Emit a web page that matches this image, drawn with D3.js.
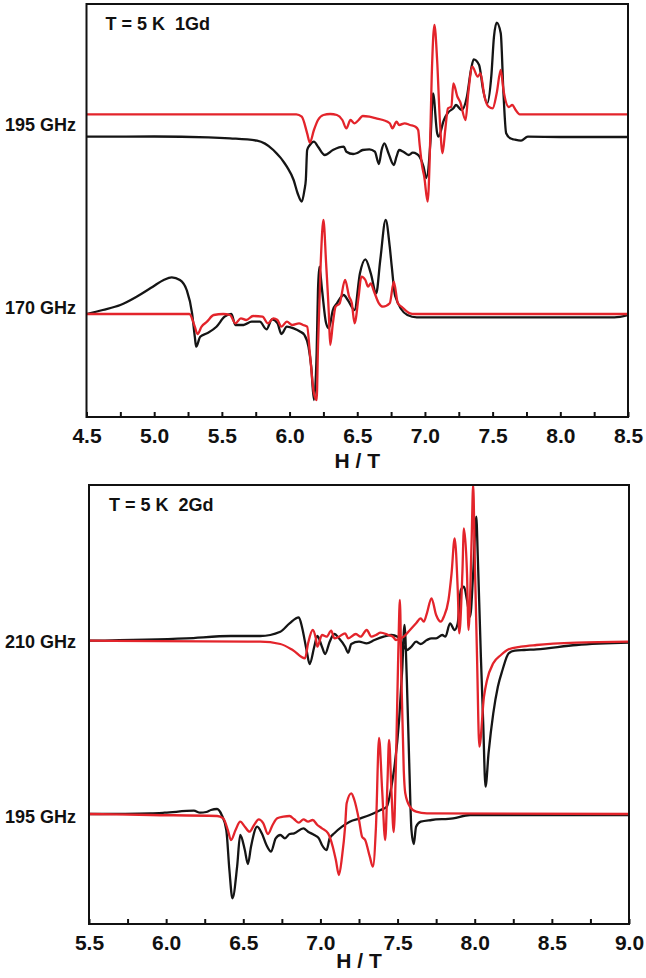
<!DOCTYPE html>
<html><head><meta charset="utf-8">
<script src="https://cdn.jsdelivr.net/npm/d3@7"></script>
<style>
body{margin:0;background:#fff}
svg{display:block}
text{font-family:"Liberation Sans",Arial,sans-serif;font-weight:bold;fill:#111}
</style>
</head><body>
<svg id="chart" width="646" height="978"></svg>
<script>
// ---------------- DATA ----------------
// x: magnetic field H (T); y: EPR signal (arb. units) relative to the trace baseline
const topTicks = [4.5,4.75,5.0,5.25,5.5,5.75,6.0,6.25,6.5,6.75,7.0,7.25,7.5,7.75,8.0,8.25,8.5];
const topTickLabels = [4.5,5.0,5.5,6.0,6.5,7.0,7.5,8.0,8.5];
const bottomTicks = [5.5,5.75,6.0,6.25,6.5,6.75,7.0,7.25,7.5,7.75,8.0,8.25,8.5,8.75,9.0];
const bottomTickLabels = [5.5,6.0,6.5,7.0,7.5,8.0,8.5,9.0];

const topFreqLabels = ["195 GHz","170 GHz"];
const topFreqLevels = [18.9, 0.6];
const bottomFreqLabels = ["210 GHz","195 GHz"];
const bottomFreqLevels = [17.23, -0.27];

const topOffsets = {b195:17.65, r195:19.97, b170:0, r170:0};
const bottomOffsets = {b210:17.33, r210:17.33, b195:0, r195:0};

const top195Black = [[4.50,0.08],[5.00,0.10],[5.40,0.02],[5.56,-0.08],[5.76,-0.32],[5.88,-1.25],[5.98,-2.92],[6.03,-4.25],[6.06,-5.6],[6.09,-6.42],[6.11,-5.25],[6.12,-4.25],[6.13,-1.25],[6.15,-0.75],[6.18,-0.42],[6.21,-0.92],[6.26,-1.75],[6.32,-1.25],[6.40,-0.92],[6.42,-1.42],[6.47,-1.65],[6.50,-1.55],[6.54,-1.25],[6.59,-1.18],[6.63,-1.42],[6.66,-2.65],[6.68,-1.25],[6.70,-0.58],[6.73,-1.55],[6.77,-2.75],[6.79,-1.92],[6.81,-1.25],[6.84,-1.42],[6.88,-1.75],[6.91,-1.52],[6.94,-1.65],[6.96,-1.92],[6.99,-2.92],[7.01,-4.05],[7.04,-0.55],[7.06,4.42],[7.09,0.45],[7.10,0.08],[7.14,1.75],[7.17,2.48],[7.21,2.92],[7.23,3.25],[7.27,2.75],[7.31,4.08],[7.34,6.75],[7.36,7.82],[7.40,7.25],[7.43,4.75],[7.46,3.42],[7.49,6.08],[7.51,10.08],[7.53,11.48],[7.56,10.42],[7.58,4.45],[7.60,0.42],[7.63,-0.08],[7.66,-0.2],[7.71,-0.32],[7.76,0.08],[8.00,0.05],[8.50,0.05]];

const top195Red = [[4.50,0],[6.05,0],[6.09,-0.24],[6.13,-1.9],[6.15,-2.84],[6.18,-1.57],[6.21,-0.57],[6.25,-0.07],[6.30,0.03],[6.35,-0.07],[6.39,-0.57],[6.42,-1.4],[6.45,-0.57],[6.48,-0.9],[6.51,-0.57],[6.54,-0.17],[6.59,-0.24],[6.64,-0.4],[6.69,-0.57],[6.74,-0.9],[6.76,-1.4],[6.79,-0.74],[6.81,-1.07],[6.85,-0.9],[6.89,-1.07],[6.93,-1.24],[6.95,-1.57],[6.96,-2.9],[6.98,-5.24],[6.995,-6.24],[7.02,-8.74],[7.035,-4.57],[7.05,3.76],[7.07,8.93],[7.09,5.43],[7.11,-0.57],[7.13,-3.9],[7.15,-1.57],[7.17,0.6],[7.195,0.76],[7.21,3.1],[7.24,1.76],[7.26,1.26],[7.30,-0.57],[7.32,2.1],[7.35,4.76],[7.39,3.76],[7.41,4.1],[7.44,1.76],[7.47,0.76],[7.50,0.6],[7.53,2.1],[7.56,4.43],[7.58,2.43],[7.62,0.73],[7.645,0.93],[7.67,0.43],[7.70,0],[8.50,0]];

const top170Black = [[4.50,0],[4.62,0.4],[4.75,0.9],[4.87,1.73],[4.99,2.73],[5.07,3.4],[5.13,3.67],[5.19,3.4],[5.24,2.4],[5.28,0.07],[5.30,-2.27],[5.31,-3.27],[5.34,-2.27],[5.39,-1.93],[5.46,-1.27],[5.52,-0.27],[5.57,0],[5.60,-1.1],[5.66,-1.1],[5.72,-0.77],[5.78,-0.77],[5.83,-1.53],[5.87,-0.53],[5.91,-0.9],[5.94,-2.0],[5.98,-1.27],[6.03,-1.43],[6.08,-1.77],[6.11,-2.1],[6.14,-3.27],[6.16,-5.27],[6.18,-8.6],[6.20,-3.93],[6.21,2.4],[6.22,4.73],[6.24,2.4],[6.27,-0.93],[6.29,-1.43],[6.32,0.4],[6.35,1.07],[6.40,1.9],[6.43,1.4],[6.48,0.4],[6.52,4.07],[6.56,5.47],[6.60,4.07],[6.64,2.07],[6.67,5.4],[6.71,9.4],[6.74,6.73],[6.755,4.73],[6.78,1.8],[6.87,-0.1],[6.94,-0.33],[8.40,-0.33],[8.50,-0.1]];

const top170Red = [[4.50,0],[5.26,0],[5.30,-1.27],[5.32,-2.0],[5.35,-1.27],[5.39,-0.77],[5.44,-0.1],[5.51,0],[5.56,-0.1],[5.60,-0.93],[5.64,-0.43],[5.68,-0.6],[5.73,-0.2],[5.80,-0.27],[5.84,-0.93],[5.88,-0.43],[5.91,-0.6],[5.94,-1.27],[5.98,-0.77],[6.02,-1.1],[6.07,-0.93],[6.10,-1.1],[6.13,-1.27],[6.15,-3.93],[6.18,-7.93],[6.20,-8.6],[6.21,-3.27],[6.23,5.07],[6.25,9.4],[6.27,5.07],[6.29,0.07],[6.30,-3.1],[6.32,-0.93],[6.34,0.73],[6.37,1.07],[6.41,3.4],[6.44,1.73],[6.46,1.07],[6.48,-0.93],[6.51,1.73],[6.53,3.73],[6.56,3.4],[6.58,2.73],[6.60,3.07],[6.62,2.4],[6.66,1.07],[6.69,0.73],[6.74,1.07],[6.77,3.23],[6.80,1.07],[6.83,0.7],[6.89,0.07],[6.92,0],[8.50,0]];

const bot210Black = [[5.50,0],[6.13,0.24],[6.42,0.47],[6.61,0.47],[6.74,0.9],[6.80,1.74],[6.86,2.34],[6.88,1.4],[6.91,-0.93],[6.93,-2.33],[6.96,-0.6],[6.98,0.47],[7.01,-0.6],[7.03,-1.33],[7.06,-0.1],[7.09,0.67],[7.12,0.24],[7.16,-0.6],[7.18,-1.2],[7.20,-0.33],[7.25,-0.1],[7.30,-0.26],[7.35,0.07],[7.41,0.4],[7.46,0.57],[7.50,0.4],[7.53,-0.26],[7.56,-0.93],[7.59,-0.6],[7.62,-0.1],[7.65,-0.33],[7.69,0.07],[7.72,0.24],[7.75,0.24],[7.79,0.57],[7.81,0.4],[7.84,1.74],[7.87,1.07],[7.89,1.74],[7.91,5.07],[7.93,5.4],[7.95,4.07],[7.97,2.4],[7.99,6.74],[8.01,12.4],[8.02,8.4],[8.04,-1.6],[8.055,-8.26],[8.07,-14.6],[8.09,-11.2],[8.12,-7.3],[8.15,-4.6],[8.18,-2.93],[8.22,-1.26],[8.26,-1.0],[8.32,-0.93],[8.40,-0.86],[8.66,-0.43],[9.00,-0.2]];

const bot210Red = [[5.50,0],[6.53,-0.1],[6.61,-0.1],[6.74,-0.33],[6.82,-0.93],[6.90,-1.76],[6.92,-0.26],[6.95,1.07],[6.97,0.24],[6.98,-0.6],[7.01,0.57],[7.04,0.4],[7.07,1.0],[7.09,0.24],[7.12,0.4],[7.16,0.74],[7.18,0.24],[7.23,0.67],[7.26,0.4],[7.30,1.07],[7.33,0.4],[7.36,0.57],[7.39,0.8],[7.44,0.57],[7.47,0.4],[7.49,0.07],[7.54,0.4],[7.57,0.9],[7.62,1.74],[7.65,2.24],[7.67,1.9],[7.69,2.74],[7.72,4.24],[7.75,2.57],[7.78,1.9],[7.80,2.4],[7.83,4.07],[7.85,6.74],[7.87,10.24],[7.89,5.07],[7.90,0.74],[7.92,6.74],[7.93,11.24],[7.95,6.74],[7.96,1.07],[7.98,10.07],[7.99,15.6],[8.00,8.4],[8.015,-1.6],[8.03,-10.6],[8.06,-5.6],[8.08,-3.93],[8.12,-2.26],[8.17,-1.43],[8.22,-0.86],[8.30,-0.6],[8.40,-0.43],[8.66,-0.2],[9.00,-0.1]];

const bot195Black = [[5.50,0],[5.90,0.07],[5.99,0.13],[6.18,0.33],[6.22,0.13],[6.26,0.2],[6.29,0.4],[6.33,0.5],[6.36,-0.1],[6.39,-1.6],[6.41,-5.6],[6.43,-8.43],[6.46,-5.27],[6.48,-2.1],[6.51,-3.6],[6.53,-5.0],[6.55,-3.27],[6.59,-1.27],[6.62,-1.93],[6.65,-3.1],[6.68,-3.77],[6.71,-2.43],[6.74,-2.1],[6.77,-2.43],[6.80,-2.0],[6.83,-1.93],[6.89,-1.43],[6.92,-1.77],[6.96,-2.1],[6.99,-2.43],[7.01,-3.1],[7.04,-3.6],[7.06,-2.43],[7.09,-1.93],[7.14,-1.27],[7.19,-0.77],[7.26,-0.43],[7.32,-0.1],[7.39,0.4],[7.43,0.73],[7.46,2.73],[7.48,4.73],[7.51,9.4],[7.53,14.4],[7.545,18.9],[7.56,13.4],[7.575,5.4],[7.59,-1.6],[7.605,-3.0],[7.62,-1.27],[7.65,-0.77],[7.72,-0.6],[7.86,-0.43],[7.97,-0.1],[8.20,-0.1],[9.00,-0.1]];

const bot195Red = [[5.50,0],[5.90,-0.1],[6.33,-0.2],[6.37,-0.43],[6.40,-1.6],[6.42,-2.6],[6.45,-1.6],[6.48,-0.77],[6.51,-1.27],[6.54,-1.77],[6.57,-1.1],[6.60,-0.53],[6.63,-0.93],[6.66,-2.0],[6.69,-1.1],[6.72,-0.43],[6.76,-0.27],[6.80,-0.2],[6.83,-0.53],[6.86,-0.87],[6.89,-0.53],[6.92,-0.77],[6.95,-0.6],[6.98,-1.1],[7.01,-1.43],[7.05,-1.93],[7.08,-3.27],[7.10,-4.6],[7.12,-6.1],[7.14,-4.27],[7.16,-1.27],[7.17,1.07],[7.20,2.07],[7.22,1.4],[7.25,-0.6],[7.27,-2.27],[7.29,-2.6],[7.32,-4.27],[7.34,-5.27],[7.36,-1.27],[7.38,7.6],[7.40,2.4],[7.42,-2.6],[7.435,3.4],[7.445,7.4],[7.46,2.4],[7.475,-1.8],[7.49,5.4],[7.505,16.4],[7.515,21.4],[7.525,13.4],[7.54,4.4],[7.55,2.07],[7.58,0.73],[7.62,0.23],[7.69,0.07],[9.00,0]];

// ---------------- DRAWING ----------------
const svg = d3.select("#chart");
const BLACK = "#151515", RED = "#e3242b";

const panels = [
  {id:"p1", left:86.5, right:628, top:4, bottom:417,
   xDomain:[4.5,8.5], yDomain:[-10.3,31.0],
   ticks:topTicks, tickLabels:topTickLabels,
   title:"T = 5 K  1Gd", titleDx:19, titleY:30,
   freqLabels:topFreqLabels, freqLevels:topFreqLevels,
   traces:[
     {data:top195Black, off:topOffsets.b195, color:BLACK},
     {data:top170Black, off:topOffsets.b170, color:BLACK},
     {data:top195Red, off:topOffsets.r195, color:RED},
     {data:top170Red, off:topOffsets.r170, color:RED}],
   xTitleY:468},
  {id:"p2", left:89, right:629, top:485, bottom:924,
   xDomain:[5.5,9.0], yDomain:[-11.0,32.9],
   ticks:bottomTicks, tickLabels:bottomTickLabels,
   title:"T = 5 K  2Gd", titleDx:20, titleY:511,
   freqLabels:bottomFreqLabels, freqLevels:bottomFreqLevels,
   traces:[
     {data:bot210Black, off:bottomOffsets.b210, color:BLACK},
     {data:bot195Black, off:bottomOffsets.b195, color:BLACK},
     {data:bot210Red, off:bottomOffsets.r210, color:RED},
     {data:bot195Red, off:bottomOffsets.r195, color:RED}],
   xTitleY:968}
];

panels.forEach(p => {
  const x = d3.scaleLinear().domain(p.xDomain).range([p.left, p.right]);
  const y = d3.scaleLinear().domain(p.yDomain).range([p.bottom, p.top]);
  const g = svg.append("g");

  g.append("clipPath").attr("id", "clip-" + p.id)
    .append("rect").attr("x", p.left).attr("y", p.top)
    .attr("width", p.right - p.left).attr("height", p.bottom - p.top);

  const plot = g.append("g").attr("clip-path", `url(#clip-${p.id})`);
  p.traces.forEach(t => {
    const line = d3.line()
      .x(d => x(d[0]))
      .y(d => y(d[1] + t.off))
      .curve(d3.curveMonotoneX);
    plot.append("path").datum(t.data)
      .attr("d", line).attr("fill", "none")
      .attr("stroke", t.color).attr("stroke-width", 2.3)
      .attr("stroke-linejoin", "round");
  });

  // axis with inward ticks
  const axis = d3.axisBottom(x)
    .tickValues(p.ticks)
    .tickSizeInner(-5).tickSizeOuter(0).tickPadding(11)
    .tickFormat(d => p.tickLabels.some(v => Math.abs(v - d) < 1e-9) ? d3.format(".1f")(d) : "");
  const ax = g.append("g").attr("transform", `translate(0,${p.bottom})`).call(axis);
  ax.select(".domain").remove();
  ax.selectAll(".tick line").attr("stroke", "#111").attr("stroke-width", 2);
  ax.selectAll(".tick text").attr("font-size", 21)
    .attr("font-family", '"Liberation Sans",Arial,sans-serif')
    .attr("font-weight", "bold").attr("fill", "#111");

  // frame
  g.append("rect").attr("x", p.left).attr("y", p.top)
    .attr("width", p.right - p.left).attr("height", p.bottom - p.top)
    .attr("fill", "none").attr("stroke", "#111").attr("stroke-width", 2);

  // title
  g.append("text").attr("x", p.left + p.titleDx).attr("y", p.titleY)
    .attr("font-size", 18).style("white-space", "pre").text(p.title);

  // frequency labels
  p.freqLabels.forEach((lab, i) => {
    g.append("text").attr("x", 76).attr("y", y(p.freqLevels[i]))
      .attr("dy", "0.36em").attr("text-anchor", "end")
      .attr("font-size", 18).text(lab);
  });

  // x-axis title
  g.append("text").attr("x", (p.left + p.right) / 2).attr("y", p.xTitleY)
    .attr("text-anchor", "middle").attr("font-size", 21).text("H / T");
});
</script>
</body></html>
